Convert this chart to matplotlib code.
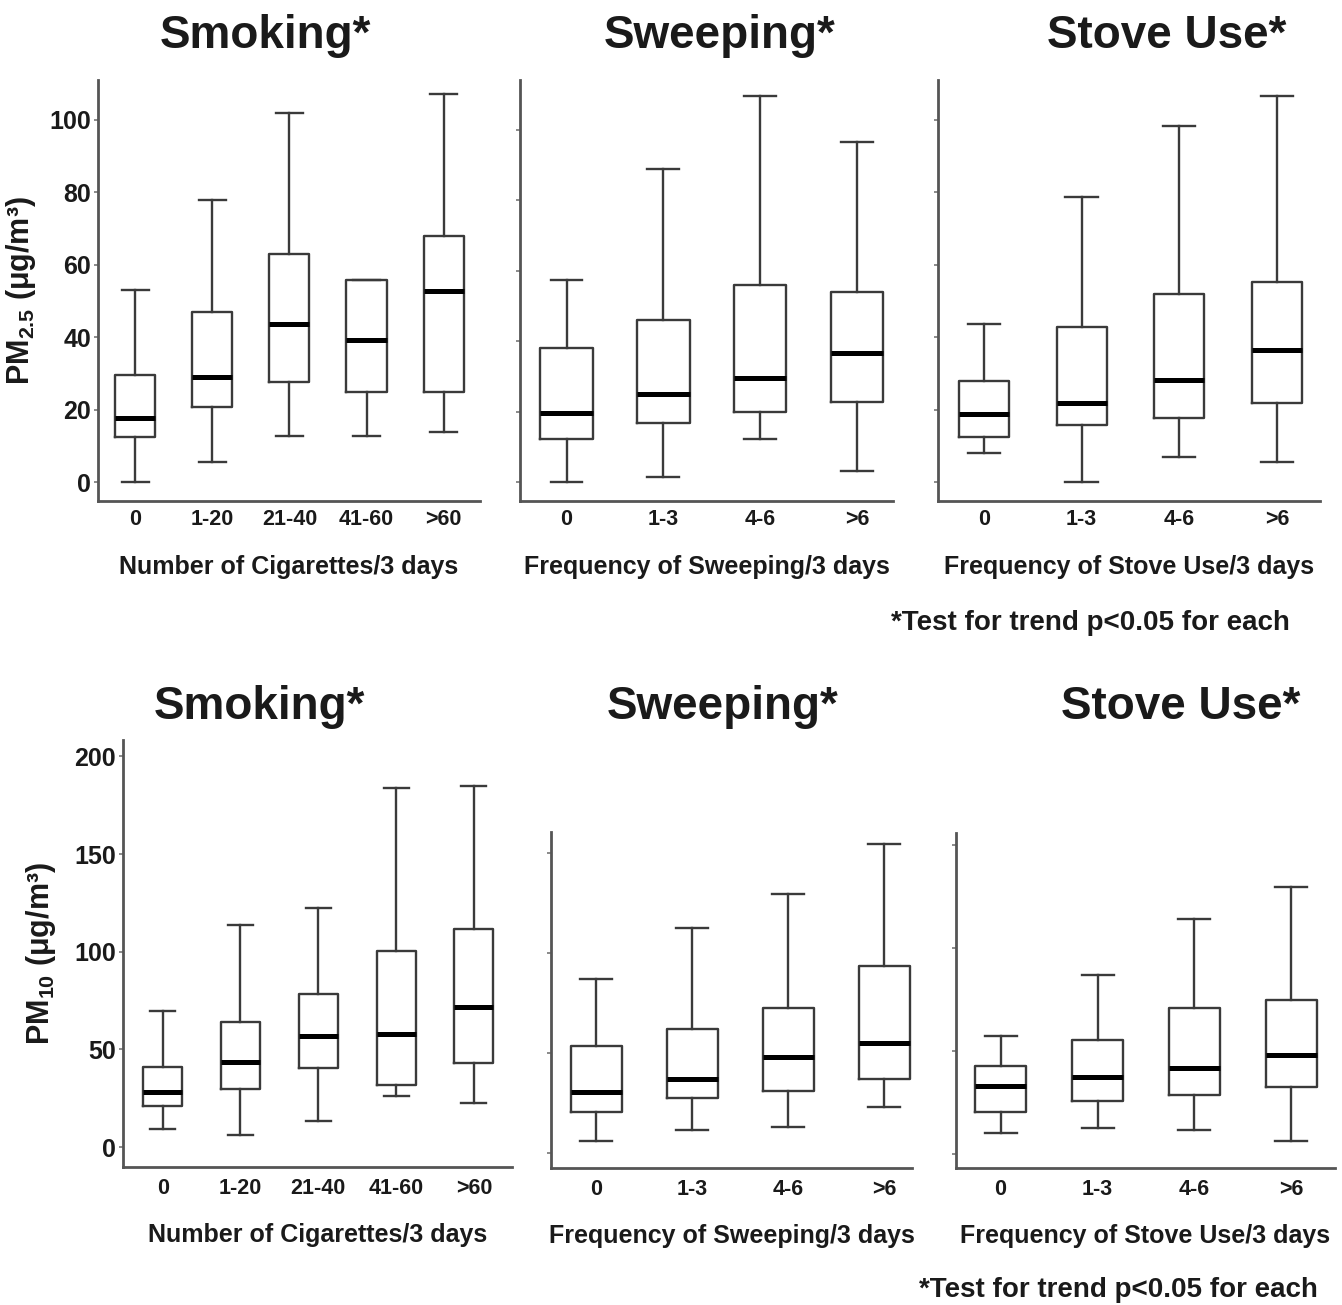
import matplotlib
matplotlib.use("Agg")
import matplotlib.pyplot as plt

plt.rcParams['font.family'] = ['Liberation Sans', 'DejaVu Sans']
plt.rcParams['mathtext.fontset'] = 'custom'
plt.rcParams['mathtext.rm'] = 'Liberation Sans:bold'
plt.rcParams['mathtext.it'] = 'Liberation Sans:bold'
plt.rcParams['mathtext.bf'] = 'Liberation Sans:bold'

# ---------------- data ----------------
cig_labels = ['0', '1-20', '21-40', '41-60', '>60']
freq_labels = ['0', '1-3', '4-6', '>6']

# PM2.5
pm25_smoke_lo = [0, 5.5, 12.7, 12.7, 13.8]
pm25_smoke_q1 = [12.4, 20.7, 27.6, 24.9, 24.9]
pm25_smoke_med = [17.7, 29.0, 43.6, 39.2, 52.8]
pm25_smoke_q3 = [29.6, 47.0, 63.0, 55.8, 68.0]
pm25_smoke_hi = [53.0, 78.0, 102.0, 55.8, 107.0]

pm25_sweep_lo = [0, 1.4, 12.2, 3.1]
pm25_sweep_q1 = [12.2, 16.8, 19.9, 22.7]
pm25_sweep_med = [19.6, 25.0, 29.5, 36.6]
pm25_sweep_q3 = [38.0, 46.0, 56.0, 54.0]
pm25_sweep_hi = [57.4, 89.0, 109.7, 96.6]

pm25_stove_lo = [8.0, 0, 6.9, 5.5]
pm25_stove_q1 = [12.4, 15.7, 17.7, 21.8]
pm25_stove_med = [18.8, 21.8, 28.2, 36.5]
pm25_stove_q3 = [27.9, 42.8, 51.9, 55.2]
pm25_stove_hi = [43.6, 78.7, 98.3, 106.6]

# PM10
pm10_smoke_lo = [9.2, 6.1, 13.3, 26.1, 22.5]
pm10_smoke_q1 = [21.0, 29.7, 40.6, 31.7, 43.0]
pm10_smoke_med = [28.2, 43.5, 56.8, 57.9, 71.7]
pm10_smoke_q3 = [41.0, 64.0, 78.3, 100.4, 111.6]
pm10_smoke_hi = [69.6, 113.7, 122.4, 183.8, 184.8]

pm10_sweep_lo = [6.0, 11.5, 13.0, 23.0]
pm10_sweep_q1 = [20.5, 27.5, 31.0, 37.0]
pm10_sweep_med = [30.5, 37.0, 48.0, 55.0]
pm10_sweep_q3 = [53.5, 62.0, 72.5, 93.5]
pm10_sweep_hi = [87.0, 112.5, 129.5, 154.5]

pm10_stove_lo = [10.2, 12.6, 11.7, 6.3]
pm10_stove_q1 = [20.4, 25.7, 28.6, 32.5]
pm10_stove_med = [33.0, 37.4, 41.7, 48.0]
pm10_stove_q3 = [42.7, 55.3, 70.9, 74.8]
pm10_stove_hi = [57.3, 86.9, 114.0, 129.6]

titles = ['Smoking*', 'Sweeping*', 'Stove Use*']
xlabels = ['Number of Cigarettes/3 days', 'Frequency of Sweeping/3 days',
           'Frequency of Stove Use/3 days']
pm25_ylabel = r'PM$_{2.5}$ (μg/m³)'
pm10_ylabel = r'PM$_{10}$ (μg/m³)'
pm25_ticks = [0, 20, 40, 60, 80, 100]
pm10_ticks = [0, 50, 100, 150, 200]
footnote = '*Test for trend p<0.05 for each'

# ---------------- figure ----------------
W, H = 1342, 1305
fig = plt.figure(figsize=(W / 100, H / 100), dpi=100)
fig.patch.set_facecolor('white')

LINE = '#3a3a3a'
TXT = '#1a1a1a'


def px_axes(x0, y0, x1, y1):
    return fig.add_axes([x0 / W, 1 - y1 / H, (x1 - x0) / W, (y1 - y0) / H])


def panel(rect, labels, lo, q1, med, q3, hi, ylim, xlim, yticks, showlabels,
          xlabel, ylabel=None, width=0.52, capw=0.33, xpad=6, lpad=18, ylpad=8):
    ax = px_axes(*rect)
    stats = [dict(whislo=a, q1=b, med=c, q3=d, whishi=e, label=l)
             for a, b, c, d, e, l in zip(lo, q1, med, q3, hi, labels)]
    ax.bxp(stats, positions=list(range(len(labels))), widths=width,
           capwidths=capw, showfliers=False,
           boxprops=dict(color=LINE, linewidth=1.7),
           whiskerprops=dict(color=LINE, linewidth=1.7),
           capprops=dict(color=LINE, linewidth=1.7),
           medianprops=dict(color='black', linewidth=3.6, solid_capstyle='butt'))
    ax.set_xlim(*xlim)
    ax.set_ylim(*ylim)
    ax.set_yticks(yticks)
    ax.set_xticks(list(range(len(labels))))
    ax.set_xticklabels(labels)
    for s in ['top', 'right']:
        ax.spines[s].set_visible(False)
    for s in ['left', 'bottom']:
        ax.spines[s].set_color('#555555')
        ax.spines[s].set_linewidth(2.0)
    ax.tick_params(axis='x', length=0, pad=xpad, labelsize=15.5, labelcolor=TXT)
    ax.tick_params(axis='y', direction='out', length=3, width=1.2, color='#777777',
                   pad=2, labelsize=18, labelcolor=TXT, labelleft=showlabels)
    for t in ax.get_xticklabels() + ax.get_yticklabels():
        t.set_fontweight('bold')
    ax.set_xlabel(xlabel, fontsize=18, fontweight='bold', color=TXT, labelpad=lpad)
    if ylabel:
        ax.set_ylabel(ylabel, fontsize=22, fontweight='bold', color=TXT, labelpad=ylpad)
    return ax


# top row (PM2.5)
panel((98, 80, 480, 501), cig_labels, pm25_smoke_lo, pm25_smoke_q1, pm25_smoke_med,
      pm25_smoke_q3, pm25_smoke_hi, (-5.2, 111), (-0.48, 4.47), pm25_ticks, True,
      xlabels[0], pm25_ylabel, width=0.52, capw=0.35)
panel((520, 80, 893, 501), freq_labels, pm25_sweep_lo, pm25_sweep_q1, pm25_sweep_med,
      pm25_sweep_q3, pm25_sweep_hi, (-5.4, 114.2), (-0.48, 3.37), pm25_ticks, False,
      xlabels[1], width=0.54)
panel((938, 80, 1320, 501), freq_labels, pm25_stove_lo, pm25_stove_q1, pm25_stove_med,
      pm25_stove_q3, pm25_stove_hi, (-5.2, 111), (-0.47, 3.44), pm25_ticks, False,
      xlabels[2], width=0.51)

# bottom row (PM10)
panel((123, 740, 512, 1167), cig_labels, pm10_smoke_lo, pm10_smoke_q1, pm10_smoke_med,
      pm10_smoke_q3, pm10_smoke_hi, (-10.2, 208.4), (-0.51, 4.49), pm10_ticks, True,
      xlabels[0], pm10_ylabel, width=0.5, capw=0.32, xpad=8, lpad=17, ylpad=12)
panel((551, 832, 912, 1168), freq_labels, pm10_sweep_lo, pm10_sweep_q1, pm10_sweep_med,
      pm10_sweep_q3, pm10_sweep_hi, (-7.5, 160.5), (-0.47, 3.29), pm10_ticks[:4], False,
      xlabels[1], width=0.53, capw=0.34, xpad=8, lpad=17)
panel((956, 833, 1335, 1168), freq_labels, pm10_stove_lo, pm10_stove_q1, pm10_stove_med,
      pm10_stove_q3, pm10_stove_hi, (-6.8, 155.8), (-0.46, 3.45), pm10_ticks[:4], False,
      xlabels[2], width=0.53, capw=0.33, xpad=8, lpad=17)

# titles
for (x, y), t in zip([(265, 48), (720, 48), (1167, 48)], titles):
    fig.text(x / W, 1 - y / H, t, ha='center', va='baseline', fontsize=33,
             fontweight='bold', color=TXT)
for (x, y), t in zip([(259, 719), (723, 719), (1181, 719)], titles):
    fig.text(x / W, 1 - y / H, t, ha='center', va='baseline', fontsize=33,
             fontweight='bold', color=TXT)

# footnotes
fig.text(1290 / W, 1 - 623 / H, footnote, ha='right', va='center', fontsize=20,
         fontweight='bold', color=TXT)
fig.text(1318 / W, 1 - 1290 / H, footnote, ha='right', va='center', fontsize=20,
         fontweight='bold', color=TXT)

fig.savefig('out.png', dpi=100, facecolor='white')
